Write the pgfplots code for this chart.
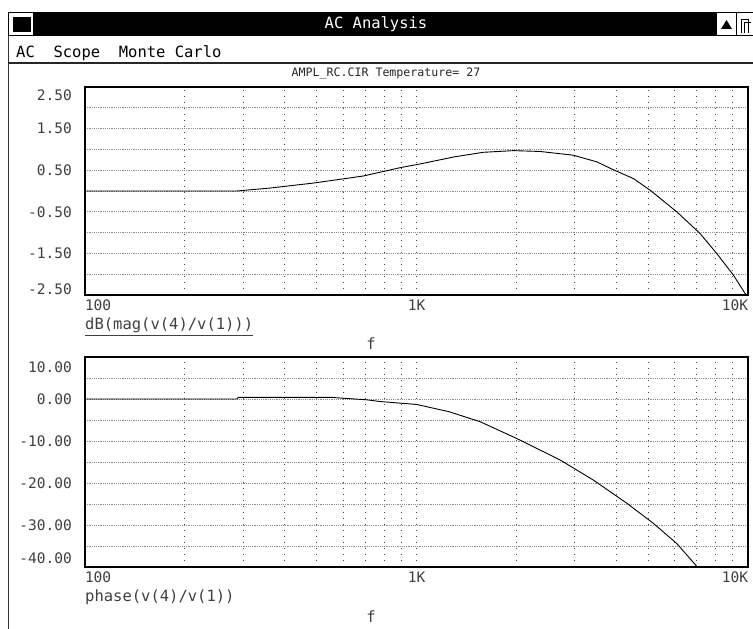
\documentclass[border=0pt]{standalone}
\usepackage{fontspec}
\setmainfont{DejaVu Sans Mono}
\usepackage{pgfplots}
\pgfplotsset{compat=1.18}

\newcommand\bigmono{\fontsize{15.5bp}{17bp}\selectfont}
\newcommand\ticmono{\fontsize{14.5bp}{16bp}\selectfont}
\newcommand\smallmono{\fontsize{11.6bp}{13bp}\selectfont}

\pgfplotsset{
  psaxis/.style={
    scale only axis,
    width=663bp,
    xmin=100, xmax=10000,
    xtick={100,1000,10000},
    xticklabels={\rlap{100},1K,\llap{10K}},
    minor xtick={200,300,400,500,600,700,800,900,2000,3000,4000,5000,6000,7000,8000,9000},
    grid=both,
    axis line style={line width=1.1bp},
    major tick length=0pt, minor tick length=0pt,
    tick style={draw=none},
    major x grid style={black!75, line width=0.8bp, dash pattern=on 1bp off 5bp},
    minor x grid style={black!75, line width=0.8bp, dash pattern=on 1bp off 5bp},
    major y grid style={draw=none},
    minor y grid style={black!45, line width=0.7bp, dash pattern=on 1.2bp off 1bp},
    ticklabel style={font=\ticmono, text=black!75},
    xticklabel style={inner sep=0pt, yshift=-5bp},
    yticklabel style={inner sep=0pt, xshift=-13bp},
    /pgf/number format/assume math mode=true,
  },
}

\begin{document}
\begin{tikzpicture}[x=1bp, y=1bp]
% page and window frame
\path[fill=white, use as bounding box] (0,0) rectangle (753,629);
\draw[black!80, line width=1bp] (8,0) -- (8,617);
\fill[black] (8,593) rectangle (753,617);
\fill[white] (9,594) rectangle (33,616);
\fill[black] (13,597) rectangle (31,612);
\fill[white] (717,594) rectangle (736,616);
\fill[black] (721,600) -- (732,600) -- (726.5,609) -- cycle;
\fill[white] (737,594) rectangle (753,616);
\draw[black, line width=0.8bp] (741,596) -- (741,610) -- (748,610) -- (748,596)
  (744,596) -- (744,607) -- (751,607);
\node[text=white, font=\bigmono] at (376,605) {AC Analysis};
\node[anchor=west, font=\bigmono, inner sep=0pt] at (16,576) {AC\ \ Scope\ \ Monte Carlo};
\draw[black!85, line width=1.2bp] (8,566) -- (753,566);
\node[font=\smallmono, text=black!85] at (386,555) {AMPL\_RC.CIR Temperature= 27};

% dB magnitude (labels at the extremes sit inside the frame, as in Probe)
\begin{semilogxaxis}[psaxis,
  at={(85bp,334bp)}, anchor=south west,
  height=208bp,
  ymin=-2.5, ymax=2.5,
  ytick={-2.36,-1.5,-0.5,0.5,1.5,2.31},
  yticklabels={-2.50,-1.50,-0.50,0.50,1.50,2.50},
  minor ytick={-2,-1.5,-1,-0.5,0,0.5,1,1.5,2},
]
\addplot[black, line width=0.9bp, no marks] coordinates {
  (100,0) (287,0) (361,0.07) (488,0.19) (691,0.36) (892,0.56) (1025,0.65)
  (1300,0.82) (1591,0.93) (1959,0.97) (2358,0.95) (2972,0.86) (3500,0.70)
  (3925,0.51) (4508,0.30) (5064,0.02) (6095,-0.50) (7164,-1.02) (8044,-1.50)
  (9031,-2.02) (9794,-2.46) (9900,-2.5)
};
\end{semilogxaxis}
\node[anchor=west, font=\bigmono, text=black!75, inner sep=0pt] at (85,304) {dB(mag(v(4)/v(1)))};
\draw[black!75, line width=0.9bp] (85,294) -- (253,294);
\node[font=\bigmono, text=black!75, inner sep=0pt] at (371,285) {f};

% phase
\begin{semilogxaxis}[psaxis,
  at={(85bp,62bp)}, anchor=south west,
  height=210bp,
  ymin=-40, ymax=10,
  ytick={-37.9,-30,-20,-10,0,7.6},
  yticklabels={-40.00,-30.00,-20.00,-10.00,0.00,10.00},
  minor ytick={-35,-30,-25,-20,-15,-10,-5,0,5},
]
\addplot[black, line width=0.9bp, no marks] coordinates {
  (100,0) (287,0) (290,0.4) (548,0.4) (709,-0.2) (776,-0.6) (1001,-1.3)
  (1250,-3.0) (1555,-5.4) (2005,-9.4) (2709,-14.5) (3415,-19.3) (4306,-24.8)
  (5180,-29.6) (6095,-34.4) (7034,-40)
};
\end{semilogxaxis}
\node[anchor=west, font=\bigmono, text=black!75, inner sep=0pt] at (85,32) {phase(v(4)/v(1))};
\node[font=\bigmono, text=black!75, inner sep=0pt] at (371,12) {f};
\end{tikzpicture}
\end{document}
